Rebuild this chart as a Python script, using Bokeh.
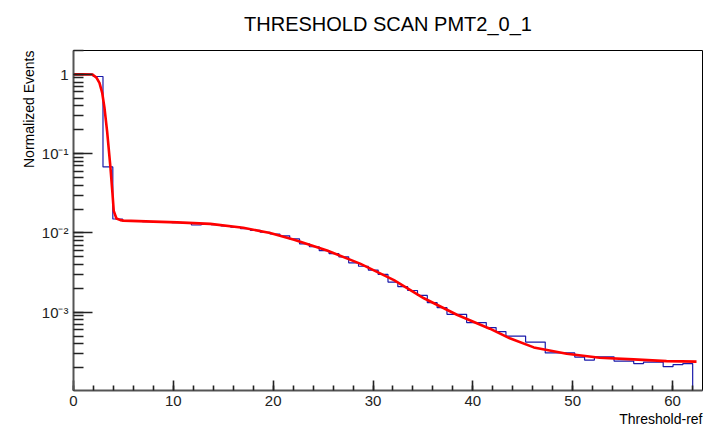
import numpy as np
from bokeh.plotting import figure
from bokeh.models import (Title, LogTicker, SingleIntervalTicker,
                          CustomJSTickFormatter, Range1d)
from bokeh.embed import file_html
from bokeh.resources import INLINE

# ---------------- data ----------------
N_BINS = 64
X_MIN, X_MAX = 0.0, 63.0
Y_MIN, Y_MAX = 1.03e-4, 2.0

bin_values = [
    1.0, 1.0, 0.94, 0.068, 0.0150,
    0.0141, 0.0140, 0.0139, 0.0138, 0.0137, 0.0135, 0.0133, 0.0126, 0.0128,
    0.0127, 0.0123, 0.0118, 0.0113, 0.0108,
    0.0102, 0.0097, 0.0092, 0.0084, 0.0073, 0.0067, 0.0060, 0.0055, 0.0050,
    0.0042, 0.0038, 0.0034, 0.0030, 0.0024, 0.0021, 0.00188, 0.00163,
    0.00132, 0.00114, 0.00094, 0.00094, 0.00074, 0.00074, 0.00064, 0.00057,
    0.00050,
    0.00050, 0.00042, 0.00042, 0.000307, 0.000307, 0.000307, 0.000272,
    0.000249, 0.000274, 0.000274, 0.000242, 0.000242, 0.000225, 0.000235,
    0.000235, 0.000206, 0.000218, 0.000225, 0.0,
]

fit_x = [0.0, 1.0, 1.9, 2.3, 2.6, 2.87, 3.1, 3.37, 3.7, 3.9, 4.03, 4.3, 4.7,
         5.0, 8.0, 10.4, 13.7, 17.0, 19.7, 22.1, 25.4, 28.7, 32.1, 35.1,
         38.4, 41.7, 43.7, 46.1, 49.4, 52.7, 56.1, 59.4, 62.4]
fit_y = [1.0, 1.0, 0.995, 0.91, 0.78, 0.59, 0.38, 0.19, 0.067, 0.032, 0.019,
         0.0152, 0.0145, 0.0143, 0.0139, 0.0136, 0.0130, 0.0116, 0.0100,
         0.0082, 0.0060, 0.0041, 0.00254, 0.0015, 0.00093, 0.00062, 0.00047,
         0.00036, 0.000299, 0.000267, 0.000254, 0.000242, 0.000238]

title_text = "THRESHOLD SCAN PMT2_0_1"
x_title = "Threshold-ref"
y_title = "Normalized Events"

# ---------------- figure ----------------
FONT = "Liberation Sans"
p = figure(width=704, height=426,
           x_range=Range1d(X_MIN, X_MAX), y_range=Range1d(Y_MIN, Y_MAX),
           y_axis_type="log", output_backend="svg", toolbar_location=None,
           min_border_left=73, min_border_right=2,
           min_border_top=50, min_border_bottom=29)
p.background_fill_color = "white"
p.border_fill_color = "white"
p.grid.visible = False
p.outline_line_color = "black"
p.outline_line_width = 1
p.outline_line_alpha = 1.0

# histogram outline (empty bins drawn down to the axis floor, as ROOT does)
edges = np.linspace(X_MIN, X_MAX, N_BINS + 1)
draw_vals = [v if v > 0 else Y_MIN for v in bin_values]
p.step(x=list(edges), y=draw_vals + [draw_vals[-1]], mode="after",
       line_color="#1a1aaa", line_width=1.2)

# fit curve
p.line(fit_x, fit_y, line_color="#ff0000", line_width=2.6, line_join="round")

# ---------------- axes ----------------
p.xaxis.ticker = SingleIntervalTicker(interval=10, num_minor_ticks=5)
p.yaxis.ticker = LogTicker(num_minor_ticks=10)
p.yaxis.formatter = CustomJSTickFormatter(code="""
const e = Math.round(Math.log10(tick));
if (e == 0) { return "1"; }
const sup = {"-": "\u207b", "0": "\u2070", "1": "\u00b9", "2": "\u00b2",
             "3": "\u00b3", "4": "\u2074", "5": "\u2075"};
return "10" + String(e).split("").map(c => sup[c]).join("");
""")

for ax in (p.xaxis[0], p.yaxis[0]):
    ax.axis_line_color = "#555555"
    ax.axis_line_width = 2
    ax.major_tick_line_color = "#222222"
    ax.minor_tick_line_color = "#222222"
    ax.major_tick_line_width = 1.6
    ax.minor_tick_line_width = 1.6
    ax.major_tick_out = 0
    ax.minor_tick_out = 0
    ax.major_label_text_font = FONT
    ax.major_label_text_font_size = "15px"
    ax.major_label_text_color = "#222222"

p.yaxis.major_tick_in = 19
p.yaxis.minor_tick_in = 10
p.yaxis.major_label_standoff = 5
p.xaxis.major_tick_in = 10
p.xaxis.minor_tick_in = 5
p.xaxis.major_label_standoff = 5

# ---------------- titles ----------------
p.title.text = title_text
p.title.align = "center"
p.title.text_font = FONT
p.title.text_font_size = "20px"
p.title.text_font_style = "normal"
p.title.text_color = "black"
p.title.standoff = 8

# empty spacer between the frame and the main title
p.add_layout(Title(text=" ", text_font_size="4px", standoff=5), "above")

p.add_layout(Title(text=x_title, align="right", text_font=FONT,
                   text_font_size="14px", text_font_style="normal",
                   text_color="black", standoff=0), "below")
p.add_layout(Title(text=y_title, align="right", text_font=FONT,
                   text_font_size="14px", text_font_style="normal",
                   text_color="black", standoff=4), "left")

open("out.html", "w").write(file_html(p, INLINE))
